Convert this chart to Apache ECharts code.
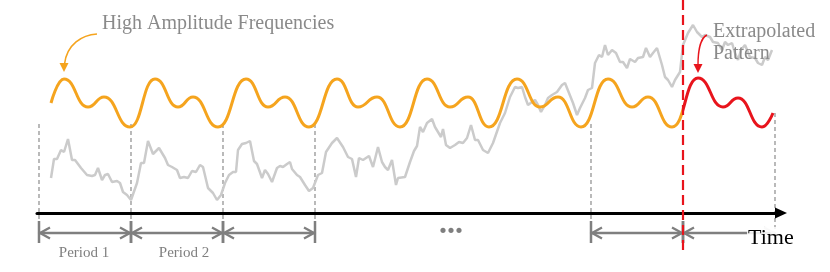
<!DOCTYPE html>
<html><head><meta charset="utf-8">
<script src="https://cdn.jsdelivr.net/npm/echarts@6/dist/echarts.min.js"></script>
<style>html,body{margin:0;padding:0;background:#fff}#c{width:830px;height:272px}</style>
</head><body><div id="c"></div>
<script>
// time (x) vs value (y)
const observed = [
[12,35],[15,54],[18,54],[22,63],[25,61],[29,74],[33,53],[36,53],[42,45],[48,38],[53,37],[56,38],[59,45],[63,33],[66,38],[69,39],[73,31],[78,32],[81,30],[84,21],[88,18],[92,13],
[98,30],[102,50],[105,50],[109,72],[114,59],[120,65],[126,55],[129,48],[133,46],[138,43],[141,35],[145,36],[149,35],[153,42],[157,41],[161,48],[164,46],[169,25],[174,20],[178,13],[182,18],
[186,30],[190,38],[194,41],[197,41],[199,63],[203,69],[207,70],[211,72],[215,52],[218,49],[223,35],[226,43],[229,39],[233,31],[238,45],[241,47],[244,46],[248,49],[251,51],[253,44],[258,38],[261,36],[266,28],[270,22],[274,25],
[279,38],[283,40],[287,61],[293,70],[298,75],[304,66],[309,56],[313,54],[317,36],[320,55],[324,53],[330,57],[334,46],[339,66],[343,51],[346,46],[349,43],[353,53],[357,28],[359,35],[366,36],[371,51],[375,62],[378,67],
[381,86],[384,81],[388,90],[393,94],[396,86],[399,81],[402,76],[404,84],[407,68],[411,65],[416,68],[420,71],[424,70],[428,75],[432,88],[436,73],[439,73],[444,63],[449,60],[454,70],[461,90],[466,100],[471,116],
[476,126],[479,125],[483,126],[486,116],[489,108],[493,111],[496,113],[499,108],[502,101],[506,108],[509,115],[513,118],[518,121],[523,128],[526,130],[530,120],[534,110],[538,98],[541,105],[546,115],
[549,123],[553,125],[556,150],[558,150],[560,158],[563,156],[566,168],[569,158],[573,163],[577,160],[581,151],[584,151],[588,145],[591,154],[596,151],[599,155],[604,156],[607,165],[611,156],[614,160],[618,165],[623,148],[626,136],[629,133],[633,126],[636,133],[641,141],
[644,168],[649,180],[654,188],[658,181],[663,176],[666,178],[671,176],[674,171],[679,170],[683,163],[686,171],[689,168],[693,170],[696,160],[699,153],[702,163],[706,168],[711,156],[716,155],[719,150],[723,148],[726,156],[729,153],[733,163]
];
// turning points of the high-amplitude frequency component
const fitted = [
[12,110],[25,134],[49,106],[65,116],[91,86],
[116,134],[139,106],[154,116],[179,86],
[207,134],[229,106],[246,116],[270,86],
[298,134],[319,106],[338,116],[361,86],
[388,134],[411,106],[429,116],[450,86],
[478,134],[501,106],[519,116],[542,86],
[569,134],[593,106],[609,116],[633,86]
];
const extrapolated = [[659,135],[684,106],[699,115],[723,86],[734,100]];
const periodGuides = [0, 92, 184, 276, 552, 736];
const cutoff = 644;
const periodSpans = [[0,92],[92,184],[184,276],[552,644],[644,736]];
const periodLabels = ['Period 1', 'Period 2'];
const axisName = 'Time';
const noteHigh = 'High Amplitude Frequencies';
const noteExtra = ['Extrapolated', 'Pattern'];

const SERIF = '"Liberation Serif", "DejaVu Serif", serif';
const GRAY = '#7f7f7f';
const ORANGE = '#f5a41e';
const RED = '#e8141c';
const W = 830;

function guides(params, api) {
  const c = (x, y) => api.coord([x, y]);
  const kids = periodGuides.map(function (x, i) {
    const last = i === periodGuides.length - 1;
    const a = c(x, last ? 100 : 89), b = c(x, last ? -21 : -30);
    return {type:'line', shape:{x1:a[0], y1:a[1], x2:b[0], y2:b[1]}, style:{stroke:'#8c8c8c', lineWidth:1.2, lineDash:[4,3]}};
  });
  return {type:'group', children:kids};
}

function annotations(params, api) {
  const c = (x, y) => api.coord([x, y]);
  const kids = [];
  const yA = -20;
  periodSpans.forEach(function (sp, i) {
    const s = sp[0], e = sp[1];
    const last = i === periodSpans.length - 1;
    const p0 = c(s, yA), p1 = c(e, yA);
    kids.push({type:'line', shape:{x1:p0[0], y1:p0[1], x2:p1[0], y2:p1[1]}, style:{stroke:GRAY, lineWidth:2.5}});
    kids.push({type:'polyline', shape:{points:[[p0[0]+11,p0[1]-5.5],[p0[0]+1,p0[1]],[p0[0]+11,p0[1]+5.5]]}, style:{stroke:GRAY, lineWidth:2.3, fill:null}});
    kids.push({type:'polyline', shape:{points:[[p1[0]-11,p1[1]-5.5],[p1[0]-1,p1[1]],[p1[0]-11,p1[1]+5.5]]}, style:{stroke:last ? '#d6d6d6' : GRAY, lineWidth:2.3, fill:null}});
    const a = c(s, -8), b = c(s, -30);
    kids.push({type:'line', shape:{x1:a[0], y1:a[1], x2:b[0], y2:b[1]}, style:{stroke:GRAY, lineWidth:2.5}});
    if (!last) {
      const a2 = c(e, -8), b2 = c(e, -30);
      kids.push({type:'line', shape:{x1:a2[0], y1:a2[1], x2:b2[0], y2:b2[1]}, style:{stroke:GRAY, lineWidth:2.5}});
    }
  });
  const labelX = [45, 145];
  periodLabels.forEach(function (t, i) {
    const p = c(labelX[i], -40);
    kids.push({type:'text', x:p[0], y:p[1], style:{text:t, fill:GRAY, font:'15px ' + SERIF, textAlign:'center', textVerticalAlign:'middle'}});
  });
  const d = c(412, -12);
  kids.push({type:'text', x:d[0], y:d[1], style:{text:'...', fill:GRAY, font:'bold 32px ' + SERIF, textAlign:'center', textVerticalAlign:'middle'}});
  const tm = c(708, -25);
  kids.push({type:'text', x:tm[0], y:tm[1], style:{text:axisName, fill:'#000', font:'22px ' + SERIF, textAlign:'left', textVerticalAlign:'middle', backgroundColor:'rgba(255,255,255,0.85)', padding:[0,2,0,1]}});
  const h = c(63, 189.5);
  kids.push({type:'text', x:h[0], y:h[1], style:{text:noteHigh, fill:'#8a8a8a', font:'20px ' + SERIF, textAlign:'left', textVerticalAlign:'middle'}});
  const e1 = c(674, 181), e2 = c(674, 159.5);
  kids.push({type:'text', x:e1[0], y:e1[1], style:{text:noteExtra[0], fill:'#8a8a8a', font:'20px ' + SERIF, textAlign:'left', textVerticalAlign:'middle'}});
  kids.push({type:'text', x:e2[0], y:e2[1], style:{text:noteExtra[1], fill:'#8a8a8a', font:'20px ' + SERIF, textAlign:'left', textVerticalAlign:'middle'}});
  // orange callout arrow
  const os = c(58, 179), otip = c(25, 141);
  kids.push({type:'bezierCurve', shape:{x1:os[0], y1:os[1], cpx1:os[0]-15, cpy1:os[1]+1, cpx2:otip[0]+3, cpy2:otip[1]-28, x2:otip[0]+0.5, y2:otip[1]-8}, style:{stroke:ORANGE, lineWidth:1.6, fill:null}});
  kids.push({type:'polygon', shape:{points:[[otip[0], otip[1]], [otip[0]-4.5, otip[1]-9], [otip[0]+4.5, otip[1]-9]]}, style:{fill:ORANGE}});
  // red callout arrow
  const rs = c(668, 178), rtip = c(659, 140);
  kids.push({type:'bezierCurve', shape:{x1:rs[0], y1:rs[1], cpx1:rs[0]-7, cpy1:rs[1]+3, cpx2:rtip[0], cpy2:rtip[1]-20, x2:rtip[0], y2:rtip[1]-8}, style:{stroke:RED, lineWidth:1.4, fill:null}});
  kids.push({type:'polygon', shape:{points:[[rtip[0], rtip[1]], [rtip[0]-4.5, rtip[1]-9], [rtip[0]+4.5, rtip[1]-9]]}, style:{fill:RED}});
  // cutoff between fitted and extrapolated
  const ct = c(cutoff, 213), cb = c(cutoff, -40);
  kids.push({type:'line', shape:{x1:ct[0], y1:ct[1], x2:cb[0], y2:cb[1]}, style:{stroke:RED, lineWidth:2.2, lineDash:[10,5]}});
  return {type:'group', children:kids};
}

const chart = echarts.init(document.getElementById('c'));
chart.setOption({
  animation: false,
  grid: {left: 37, right: 49, top: 0, bottom: 59},
  xAxis: {
    type: 'value', min: -2, max: 742,
    axisLine: {show: true, onZero: false, lineStyle: {color: '#000', width: 3}, symbol: ['none', 'triangle'], symbolSize: [11, 12]},
    axisTick: {show: false}, axisLabel: {show: false}, splitLine: {show: false}
  },
  yAxis: {type: 'value', min: 0, max: 213, show: false},
  series: [
    {type: 'custom', data: [[0, 0]], renderItem: guides, z: 0, silent: true},
    {
      type: 'line', data: observed, showSymbol: false, z: 1,
      lineStyle: {color: '#cbcbcb', width: 2.5}
    },
    {
      id: 'wave', type: 'line', data: fitted.concat(extrapolated), smooth: 0.5, smoothMonotone: 'x',
      showSymbol: false, z: 3, lineStyle: {width: 3, color: ORANGE}
    },
    {type: 'custom', data: [[0, 0]], renderItem: annotations, z: 4, silent: true}
  ]
});
// colour the wave orange before the cutoff and red after it, using the axis scale
const cutPx = chart.convertToPixel({gridIndex: 0}, [cutoff, 0])[0];
const f = cutPx / W;
chart.setOption({series: [{id: 'wave', lineStyle: {color: new echarts.graphic.LinearGradient(0, 0, W, 0, [
  {offset: 0, color: ORANGE}, {offset: f, color: ORANGE}, {offset: f, color: RED}, {offset: 1, color: RED}
], true)}}]});
</script></body></html>
